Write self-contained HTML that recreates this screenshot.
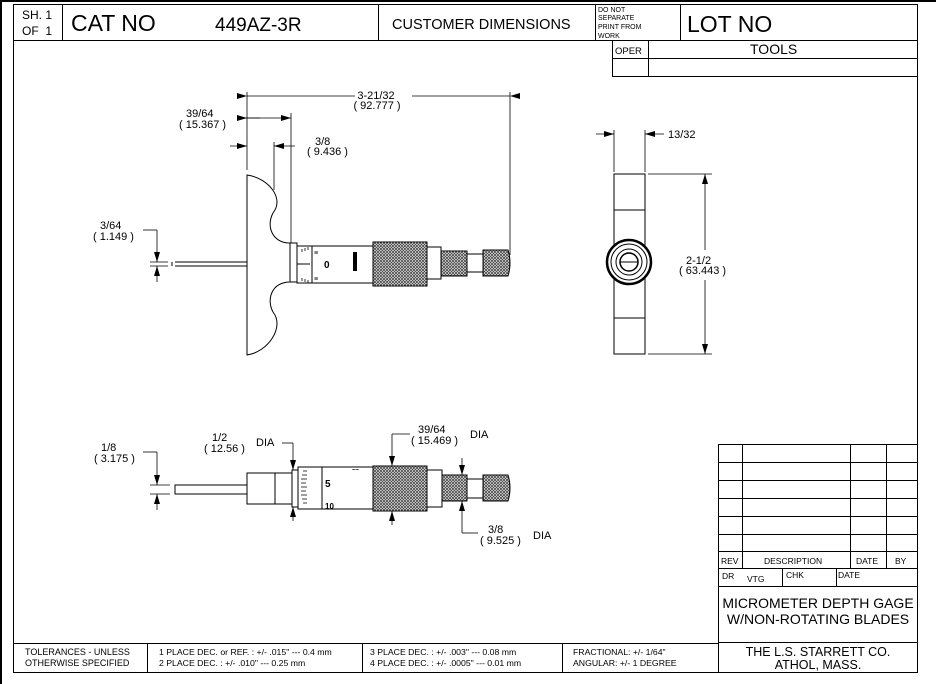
<!DOCTYPE html>
<html><head><meta charset="utf-8"><style>
html,body{margin:0;padding:0;background:#fff;}
svg{display:block;font-family:"Liberation Sans",Arial,sans-serif;}
</style></head><body>
<svg width="936" height="684" viewBox="0 0 936 684" xmlns="http://www.w3.org/2000/svg">
<defs>
<pattern id="kn" width="3" height="3" patternUnits="userSpaceOnUse">
<rect width="3" height="3" fill="#fff"/>
<path d="M0,0L3,3M3,0L0,3" stroke="#444" stroke-width="0.8"/>
</pattern>
<marker id="ar" markerWidth="10" markerHeight="6" refX="10" refY="3" orient="auto" markerUnits="userSpaceOnUse">
<path d="M0,0L10,3L0,6z" fill="#000"/>
</marker>
</defs>
<rect width="936" height="684" fill="#fff"/>
<g stroke="#000" fill="none" stroke-width="1">
<line x1="0" y1="1" x2="936" y2="1" stroke-width="2"/>
<line x1="1" y1="0" x2="1" y2="684" stroke-width="2"/>
<rect x="13.5" y="4.5" width="904" height="668"/>
<line x1="13" y1="40.5" x2="918" y2="40.5"/>
<line x1="62.5" y1="4" x2="62.5" y2="40"/>
<line x1="378.5" y1="4" x2="378.5" y2="40"/>
<line x1="595.5" y1="4" x2="595.5" y2="40"/>
<line x1="680.5" y1="4" x2="680.5" y2="40"/>
<line x1="612.5" y1="40" x2="612.5" y2="77"/>
<line x1="648.5" y1="40" x2="648.5" y2="77"/>
<line x1="612" y1="58.5" x2="918" y2="58.5"/>
<line x1="612" y1="76.5" x2="918" y2="76.5"/>
<line x1="13" y1="643.5" x2="718" y2="643.5"/>
<line x1="147.5" y1="643" x2="147.5" y2="672"/>
<line x1="362.5" y1="643" x2="362.5" y2="672"/>
<line x1="562.5" y1="643" x2="562.5" y2="672"/>
<line x1="718.5" y1="444" x2="718.5" y2="672"/>
<line x1="718" y1="444.5" x2="918" y2="444.5"/>
<line x1="718" y1="462.5" x2="918" y2="462.5"/>
<line x1="718" y1="480.5" x2="918" y2="480.5"/>
<line x1="718" y1="498.5" x2="918" y2="498.5"/>
<line x1="718" y1="516.5" x2="918" y2="516.5"/>
<line x1="718" y1="534.5" x2="918" y2="534.5"/>
<line x1="718" y1="551.5" x2="918" y2="551.5"/>
<line x1="718" y1="568.5" x2="918" y2="568.5"/>
<line x1="718" y1="586.5" x2="918" y2="586.5"/>
<line x1="718" y1="642.5" x2="918" y2="642.5"/>
<line x1="742.5" y1="444" x2="742.5" y2="568"/>
<line x1="850.5" y1="444" x2="850.5" y2="568"/>
<line x1="886.5" y1="444" x2="886.5" y2="568"/>
<line x1="782.5" y1="568" x2="782.5" y2="586"/>
<line x1="836.5" y1="568" x2="836.5" y2="586"/>
</g>
<g fill="#000">
<text x="22" y="19" font-size="12">SH. 1</text>
<text x="22" y="35" font-size="12">OF &#160;1</text>
<text x="71" y="31" font-size="23">CAT NO</text>
<text x="215" y="31" font-size="19">449AZ-3R</text>
<text x="392" y="29" font-size="14.5">CUSTOMER DIMENSIONS</text>
<text x="598" y="12" font-size="7">DO NOT</text>
<text x="598" y="20" font-size="7">SEPARATE</text>
<text x="598" y="29" font-size="7">PRINT FROM</text>
<text x="598" y="38" font-size="7">WORK</text>
<text x="687" y="32" font-size="23">LOT NO</text>
<text x="615" y="54" font-size="9.5">OPER</text>
<text x="750" y="54" font-size="14">TOOLS</text>
<text x="25" y="655" font-size="9">TOLERANCES - UNLESS</text>
<text x="25" y="666" font-size="9">OTHERWISE SPECIFIED</text>
<text x="159" y="655" font-size="8.7">1 PLACE DEC. or REF. :  +/- .015" --- 0.4 mm</text>
<text x="159" y="666" font-size="8.7">2 PLACE DEC. :  +/- .010" --- 0.25 mm</text>
<text x="370" y="655" font-size="8.7">3 PLACE DEC. :  +/- .003" --- 0.08 mm</text>
<text x="370" y="666" font-size="8.7">4 PLACE DEC. :  +/- .0005" --- 0.01 mm</text>
<text x="573" y="655" font-size="8.7">FRACTIONAL: +/- 1/64"</text>
<text x="573" y="666" font-size="8.7">ANGULAR:  +/- 1 DEGREE</text>
<text x="721" y="564" font-size="8.5">REV</text>
<text x="764" y="564" font-size="8.5">DESCRIPTION</text>
<text x="856" y="564" font-size="8.5">DATE</text>
<text x="895" y="564" font-size="8.5">BY</text>
<text x="722" y="579" font-size="8.5">DR</text>
<text x="747" y="582" font-size="8.5">VTG</text>
<text x="786" y="578" font-size="8.5">CHK</text>
<text x="838" y="578" font-size="8.5">DATE</text>
<text x="818" y="608" font-size="14" text-anchor="middle">MICROMETER DEPTH GAGE</text>
<text x="818" y="624" font-size="14" text-anchor="middle">W/NON-ROTATING BLADES</text>
<text x="818" y="656" font-size="12.5" text-anchor="middle">THE L.S. STARRETT CO.</text>
<text x="818" y="669" font-size="12.5" text-anchor="middle">ATHOL, MASS.</text>
</g>

<!-- TOP VIEW -->
<g stroke="#000" fill="none" stroke-width="1">
<path d="M247,175 C268,178 285,198 273,213 C266,226 272,243 290,243 L290,282 C272,282 266,299 273,312 C285,327 268,352 247,355 Z" fill="#fff"/>
<line x1="175" y1="262" x2="247" y2="262"/>
<line x1="175" y1="266" x2="247" y2="266"/>
<line x1="172" y1="262" x2="172" y2="266"/>
<rect x="290" y="243" width="7" height="39" fill="#fff"/>
<rect x="297" y="246" width="76" height="37" fill="#fff"/>
<line x1="297" y1="264" x2="310" y2="264"/>
<path d="M312,246 L312,283"/>
<rect x="373" y="242" width="54" height="44" fill="url(#kn)"/>
<rect x="427" y="247" width="14" height="32" fill="#fff"/>
<rect x="441" y="251" width="26" height="25" fill="url(#kn)"/>
<rect x="467" y="254" width="16" height="18" fill="#fff"/>
<path d="M483,250 L508,250 Q512,263 508,276 L483,276 Z" fill="url(#kn)"/>
</g>
<g fill="#000" font-size="7" font-weight="bold">
<text x="314" y="255">≡</text>
<text x="324" y="268" font-size="10">0</text>
<text x="314" y="281">≡</text>
<rect x="353" y="252" width="4" height="19"/>
</g>
<g stroke="#000" fill="none" stroke-width="0.8">
<path d="M302,252 v-3 M305,251 v-3 M308,250 v-3 M302,278 v3 M305,279 v3 M308,280 v3"/>
</g>
<g stroke="#000" fill="none" stroke-width="0.8">
<line x1="247" y1="92" x2="247" y2="170"/>
<line x1="510" y1="92" x2="510" y2="255"/>
<line x1="247" y1="96" x2="355" y2="96" marker-start="url(#ar)"/>
<line x1="510" y1="96" x2="412" y2="96" marker-start="url(#ar)"/>
<line x1="291" y1="113" x2="291" y2="243"/>
<line x1="240" y1="118" x2="291" y2="118" marker-end="url(#ar)"/>
<line x1="247" y1="118" x2="260" y2="118" marker-start="url(#ar)"/>
<line x1="230" y1="146" x2="247" y2="146" marker-end="url(#ar)"/>
<line x1="274" y1="142" x2="274" y2="190"/>
<line x1="295" y1="146" x2="274" y2="146" marker-end="url(#ar)"/>
<line x1="150" y1="262" x2="168" y2="262"/>
<line x1="150" y1="266" x2="168" y2="266"/>
<line x1="157" y1="230" x2="157" y2="262" marker-end="url(#ar)"/>
<line x1="157" y1="282" x2="157" y2="266" marker-end="url(#ar)"/>
<line x1="143" y1="230" x2="157" y2="230"/>
</g>
<g fill="#000" font-size="11">
<text x="376" y="99" text-anchor="middle">3-21/32</text>
<text x="377" y="109" text-anchor="middle">( 92.777 )</text>
<text x="186" y="117">39/64</text>
<text x="179" y="128">( 15.367 )</text>
<text x="315" y="145">3/8</text>
<text x="307" y="155">( 9.436 )</text>
<text x="100" y="229">3/64</text>
<text x="93" y="240">( 1.149 )</text>
</g>

<!-- SIDE VIEW -->
<g stroke="#000" fill="none" stroke-width="1">
<rect x="614" y="174" width="31" height="180" fill="#fff"/>
<line x1="614" y1="210" x2="645" y2="210"/>
<line x1="614" y1="318" x2="645" y2="318"/>
<circle cx="629" cy="262" r="22" fill="#fff" stroke-width="2.5"/>
<circle cx="629" cy="262" r="18"/>
<circle cx="629" cy="262" r="13"/>
<circle cx="629" cy="262" r="9" stroke-width="1.5"/>
<line x1="620" y1="262" x2="638" y2="262"/>
<line x1="614" y1="130" x2="614" y2="172" stroke-width="0.8"/>
<line x1="645" y1="130" x2="645" y2="172" stroke-width="0.8"/>
<line x1="596" y1="134" x2="614" y2="134" marker-end="url(#ar)" stroke-width="0.8"/>
<line x1="664" y1="134" x2="645" y2="134" marker-end="url(#ar)" stroke-width="0.8"/>
<line x1="648" y1="174" x2="712" y2="174" stroke-width="0.8"/>
<line x1="648" y1="354" x2="712" y2="354" stroke-width="0.8"/>
<line x1="705" y1="250" x2="705" y2="174" marker-end="url(#ar)" stroke-width="0.8"/>
<line x1="705" y1="280" x2="705" y2="354" marker-end="url(#ar)" stroke-width="0.8"/>
</g>
<g fill="#000" font-size="11">
<text x="668" y="138">13/32</text>
<text x="686" y="264">2-1/2</text>
<text x="679" y="274">( 63.443 )</text>
</g>

<!-- BOTTOM VIEW -->
<g stroke="#000" fill="none" stroke-width="1">
<rect x="175" y="485" width="72" height="9"/>
<rect x="247" y="473" width="45" height="31" fill="#fff"/>
<line x1="275" y1="473" x2="275" y2="504"/>
<rect x="292" y="470" width="6" height="37" fill="#fff"/>
<rect x="298" y="467" width="75" height="42" fill="#fff"/>
<line x1="322" y1="467" x2="322" y2="509"/>
<rect x="373" y="466" width="54" height="45" fill="url(#kn)"/>
<rect x="427" y="470" width="15" height="37" fill="#fff"/>
<rect x="442" y="475" width="25" height="26" fill="url(#kn)"/>
<rect x="467" y="479" width="16" height="19" fill="#fff"/>
<path d="M483,475 L508,475 Q512,488 508,501 L483,501 Z" fill="url(#kn)"/>
<path d="M303,471 h4 M302,475 h5 M301,479 h6 M301,483 h5 M301,487 h6 M301,491 h5 M301,495 h6 M302,499 h5 M303,503 h4" stroke-width="0.8"/>
</g>
<g fill="#000" font-weight="bold">
<text x="325" y="487" font-size="10">5</text>
<text x="325" y="509" font-size="8">10</text>
<text x="352" y="472" font-size="6">~~</text>
</g>
<g stroke="#000" fill="none" stroke-width="0.8">
<line x1="150" y1="485" x2="170" y2="485"/>
<line x1="150" y1="494" x2="170" y2="494"/>
<line x1="143" y1="452" x2="157" y2="452"/>
<line x1="157" y1="452" x2="157" y2="485" marker-end="url(#ar)"/>
<line x1="157" y1="510" x2="157" y2="494" marker-end="url(#ar)"/>
<line x1="282" y1="443" x2="293" y2="443"/>
<line x1="293" y1="443" x2="293" y2="470" marker-end="url(#ar)"/>
<line x1="293" y1="521" x2="293" y2="507" marker-end="url(#ar)"/>
<line x1="410" y1="434" x2="392" y2="434"/>
<line x1="392" y1="434" x2="392" y2="466" marker-end="url(#ar)"/>
<line x1="392" y1="525" x2="392" y2="511" marker-end="url(#ar)"/>
<line x1="462" y1="458" x2="462" y2="475" marker-end="url(#ar)"/>
<line x1="462" y1="533" x2="462" y2="501" marker-end="url(#ar)"/>
<line x1="462" y1="533" x2="478" y2="533"/>
</g>
<g fill="#000" font-size="11">
<text x="101" y="451">1/8</text>
<text x="94" y="462">( 3.175 )</text>
<text x="212" y="441">1/2</text>
<text x="204" y="452">( 12.56 )</text>
<text x="256" y="446">DIA</text>
<text x="418" y="433">39/64</text>
<text x="411" y="444">( 15.469 )</text>
<text x="470" y="438">DIA</text>
<text x="488" y="533">3/8</text>
<text x="480" y="544">( 9.525 )</text>
<text x="533" y="539">DIA</text>
</g>
</svg>
</body></html>
